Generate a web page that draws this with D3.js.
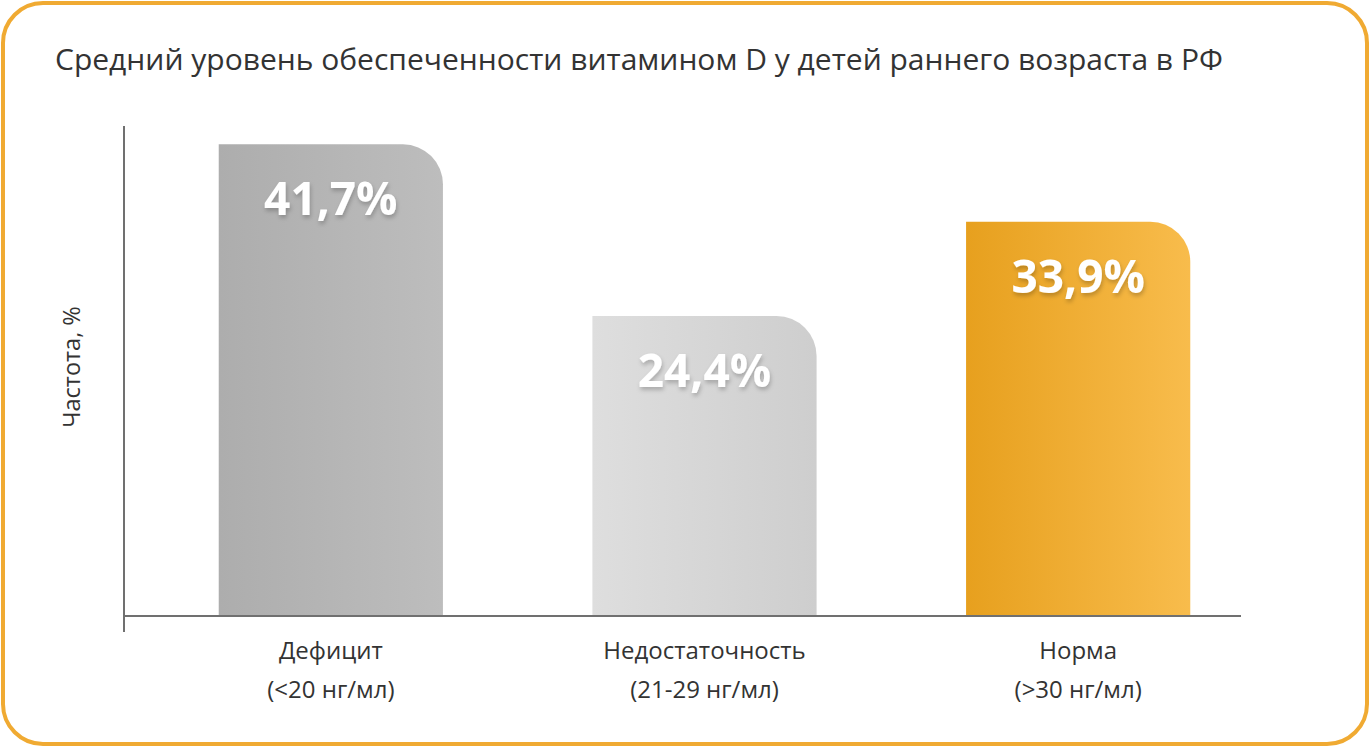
<!DOCTYPE html>
<html><head><meta charset="utf-8">
<script src="https://cdn.jsdelivr.net/npm/d3@7"></script>
<style>html,body{margin:0;padding:0;background:#fff;}svg{display:block;}</style>
</head><body>
<svg id="chart" width="1372" height="748"></svg>
<script>
const title = "Средний уровень обеспеченности витамином D у детей раннего возраста в РФ";
const yLabel = "Частота, %";
const categories = ["Дефицит", "Недостаточность", "Норма"];
const subLabels = ["(<20 нг/мл)", "(21-29 нг/мл)", "(>30 нг/мл)"];
const values = [41.7, 24.4, 33.9];
const valueLabels = ["41,7%", "24,4%", "33,9%"];

const svg = d3.select("#chart");
const font = "'Open Sans', 'Noto Sans', sans-serif";
const defs = svg.append("defs");
const grads = [["#adadad", "#bdbdbd"], ["#dedede", "#cecece"], ["#e7a01e", "#f8bc4c"]];
grads.forEach((g, i) => {
  const lg = defs.append("linearGradient").attr("id", "g" + i).attr("x1", "0").attr("x2", "1").attr("y1", "0").attr("y2", "0");
  lg.append("stop").attr("offset", "0").attr("stop-color", g[0]);
  lg.append("stop").attr("offset", "1").attr("stop-color", g[1]);
});
const f = defs.append("filter").attr("id", "sh").attr("x", "-20%").attr("y", "-20%").attr("width", "140%").attr("height", "160%");
f.append("feDropShadow").attr("dx", 1).attr("dy", 3).attr("stdDeviation", 2).attr("flood-color", "#000").attr("flood-opacity", 0.22);

// frame
svg.append("rect").attr("x", 3).attr("y", 3).attr("width", 1364).attr("height", 741)
  .attr("rx", 40).attr("fill", "#fff").attr("stroke", "#f0aa32").attr("stroke-width", 4);

svg.append("text").attr("x", 55).attr("y", 70).attr("font-family", font).attr("font-size", 30)
  .attr("fill", "#333").text(title);

const x = d3.scaleBand().domain(categories).range([144, 1265]).paddingInner(0.4).paddingOuter(0.2);
const y = d3.scaleLinear().domain([-5.85, 43.55]).range([616, 126]);

const r = 40;
svg.selectAll("path.bar").data(values).join("path").attr("class", "bar")
  .attr("fill", (d, i) => `url(#g${i})`)
  .attr("d", (d, i) => {
    const x0 = x(categories[i]), x1 = x0 + x.bandwidth(), y0 = y(d), yb = y(-5.85);
    return `M${x0},${yb}V${y0}H${x1 - r}A${r},${r} 0 0 1 ${x1},${y0 + r}V${yb}Z`;
  });

svg.selectAll("text.val").data(values).join("text").attr("class", "val")
  .attr("x", (d, i) => x(categories[i]) + x.bandwidth() / 2)
  .attr("y", d => y(d) + 71)
  .attr("text-anchor", "middle").attr("font-family", font).attr("font-weight", 700)
  .attr("font-size", 46).attr("fill", "#fff").attr("filter", "url(#sh)")
  .text((d, i) => valueLabels[i]);

// axes
svg.append("line").attr("x1", 124).attr("x2", 124).attr("y1", 126).attr("y2", 632)
  .attr("stroke", "#707070").attr("stroke-width", 2);
svg.append("line").attr("x1", 123).attr("x2", 1241).attr("y1", y(-5.85)).attr("y2", y(-5.85))
  .attr("stroke", "#707070").attr("stroke-width", 2);

const cat = svg.selectAll("g.cat").data(categories).join("g").attr("class", "cat")
  .attr("transform", d => `translate(${x(d) + x.bandwidth() / 2},0)`);
cat.append("text").attr("y", 659).attr("text-anchor", "middle").attr("font-family", font)
  .attr("font-size", 24).attr("fill", "#333").text(d => d);
cat.append("text").attr("y", 698).attr("text-anchor", "middle").attr("font-family", font)
  .attr("font-size", 24).attr("fill", "#333").text((d, i) => subLabels[i]);

svg.append("text").attr("transform", "translate(80,367) rotate(-90)").attr("text-anchor", "middle")
  .attr("font-family", font).attr("font-size", 23.5).attr("fill", "#333").text(yLabel);
</script>
</body></html>
